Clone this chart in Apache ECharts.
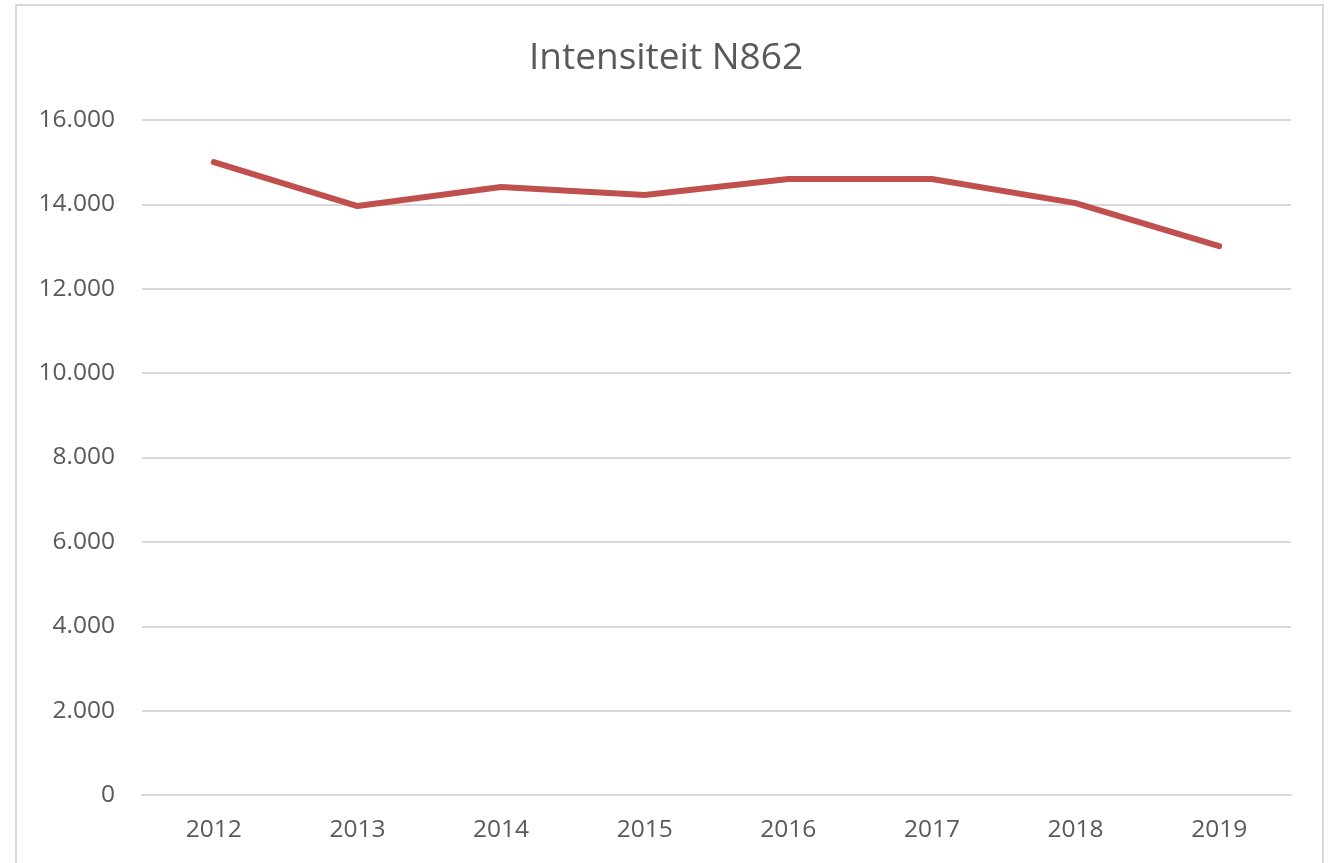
<!DOCTYPE html>
<html>
<head>
<meta charset="utf-8">
<script src="https://cdn.jsdelivr.net/npm/echarts@6/dist/echarts.min.js"></script>
<style>
  html, body { margin: 0; padding: 0; background: #fff; }
  #main { width: 1332px; height: 863px; }
</style>
</head>
<body>
<div id="main"></div>
<script>
// data
var years = ['2012', '2013', '2014', '2015', '2016', '2017', '2018', '2019'];
var intensiteit = [15000, 13960, 14410, 14220, 14600, 14600, 14030, 13010];
var yTicks = [0, 2000, 4000, 6000, 8000, 10000, 12000, 14000, 16000];

var myChart = echarts.init(document.getElementById('main'));

var option = {
    animation: false,
    backgroundColor: '#fff',
    textStyle: { fontFamily: 'Open Sans' },
    title: {
        text: 'Intensiteit N862',
        left: 'center',
        top: 35,
        textStyle: { color: '#595959', fontSize: 37, fontWeight: 'normal', fontFamily: 'Open Sans' }
    },
    graphic: [{
        type: 'rect',
        shape: { x: 16, y: 5, width: 1307, height: 900 },
        style: { fill: 'none', stroke: '#d9d9d9', lineWidth: 2 },
        silent: true
    }],
    grid: { left: 142, right: 41, top: 120, bottom: 68 },
    xAxis: {
        type: 'category',
        data: years,
        boundaryGap: true,
        axisLine: { show: true, lineStyle: { color: '#d9d9d9', width: 2 } },
        axisTick: { show: false },
        axisLabel: { color: '#595959', fontSize: 24.5, margin: 23 }
    },
    yAxis: {
        type: 'value',
        min: yTicks[0],
        max: yTicks[yTicks.length - 1],
        interval: 2000,
        axisLine: { show: false },
        axisTick: { show: false },
        splitLine: { lineStyle: { color: '#d9d9d9', width: 2 } },
        axisLabel: {
            color: '#595959',
            fontSize: 24.5,
            margin: 27,
            formatter: function (v) {
                return v === 0 ? '0' : (v / 1000).toFixed(3);
            }
        }
    },
    series: [{
        type: 'line',
        data: intensiteit,
        symbol: 'none',
        lineStyle: { color: '#c0504d', width: 6, cap: 'round', join: 'round' }
    }]
};

myChart.setOption(option);
</script>
</body>
</html>
